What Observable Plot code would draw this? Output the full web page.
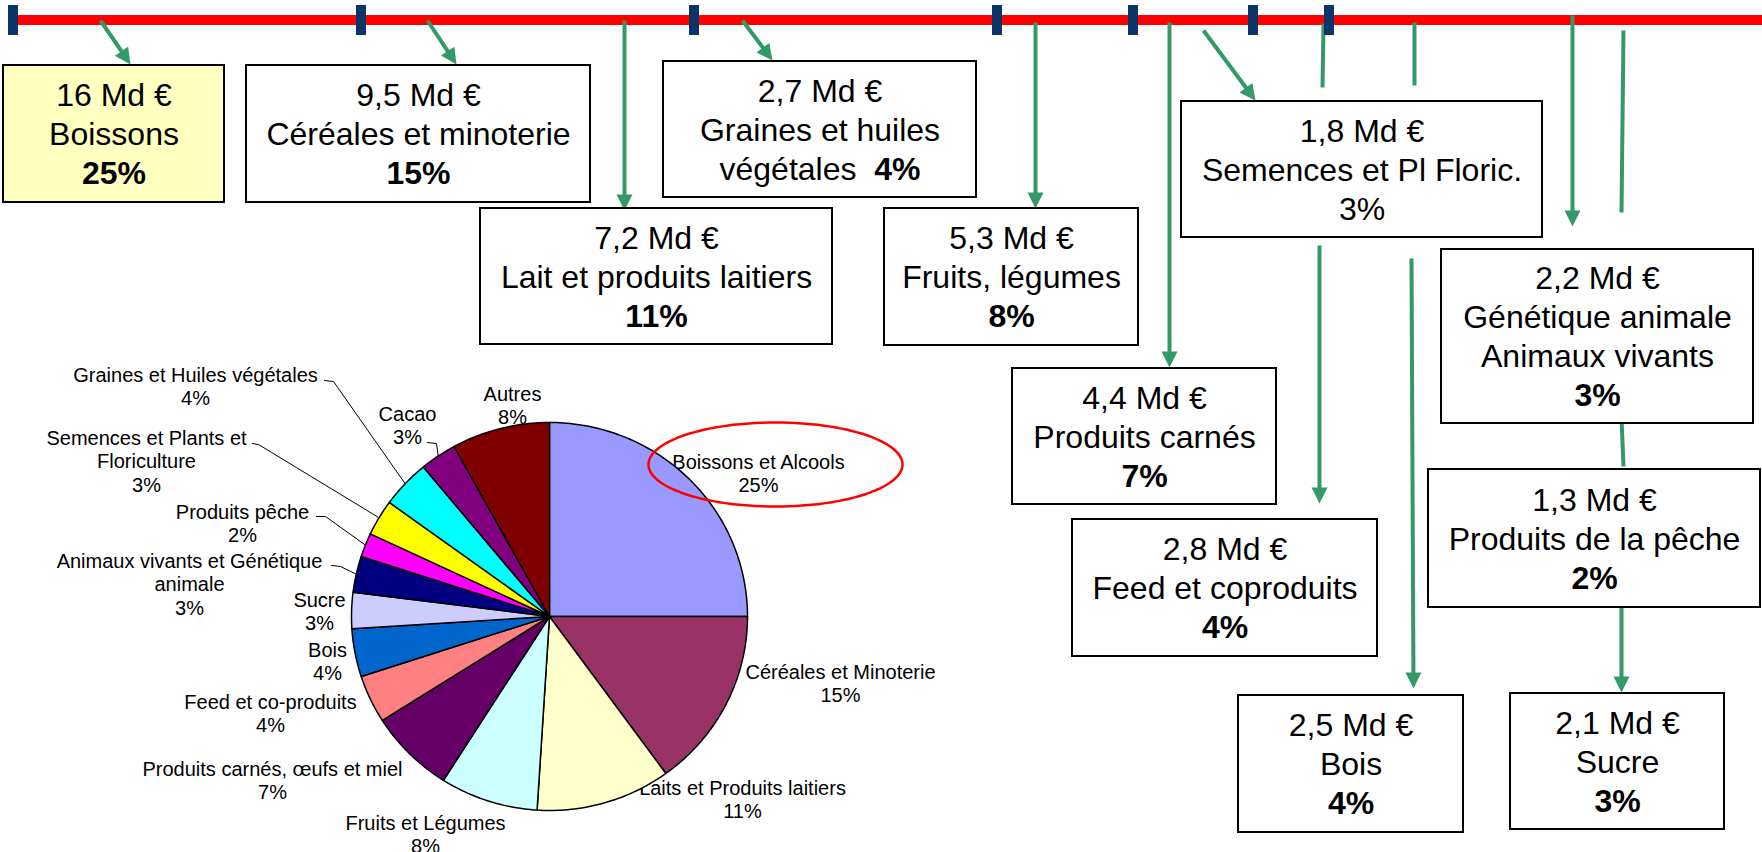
<!DOCTYPE html>
<html>
<head>
<meta charset="utf-8">
<script src="https://cdn.jsdelivr.net/npm/d3@7"></script>
<script src="https://cdn.jsdelivr.net/npm/@observablehq/plot@0.6"></script>
<style>
  html, body { margin: 0; padding: 0; background: #ffffff; }
  #chart { width: 1762px; height: 852px; overflow: hidden; }
</style>
</head>
<body>
<div id="chart"></div>
<script>
// ================= DATA =================
// Boxes (value in Md €, category, share)
const boxAmounts = ["16", "9,5", "2,7", "7,2", "5,3", "1,8", "4,4", "2,8", "2,2", "1,3", "2,5", "2,1"];
const boxNames = [
  ["Boissons"], ["Céréales et minoterie"], ["Graines et huiles", "végétales"],
  ["Lait et produits laitiers"], ["Fruits, légumes"], ["Semences et Pl Floric."],
  ["Produits carnés"], ["Feed et coproduits"], ["Génétique animale", "Animaux vivants"],
  ["Produits de la pêche"], ["Bois"], ["Sucre"]
];
const boxShares = [25, 15, 4, 11, 8, 3, 7, 4, 3, 2, 4, 3];
const boxShareBold = [true, true, true, true, true, false, true, true, true, true, true, true];
const boxShareInline = [false, false, true, false, false, false, false, false, false, false, false, false];
const boxHighlight = [true, false, false, false, false, false, false, false, false, false, false, false];

// Pie (share in %)
const pieLabels = [
  "Boissons et Alcools", "Céréales et Minoterie", "Laits et Produits laitiers", "Fruits et Légumes",
  "Produits carnés, œufs et miel", "Feed et co-produits", "Bois", "Sucre",
  "Animaux vivants et Génétique animale", "Produits pêche", "Semences et Plants et Floriculture",
  "Graines et Huiles végétales", "Cacao", "Autres"
];
const pieLabelLines = [
  ["Boissons et Alcools"], ["Céréales et Minoterie"], ["Laits et Produits laitiers"], ["Fruits et Légumes"],
  ["Produits carnés, œufs et miel"], ["Feed et co-produits"], ["Bois"], ["Sucre"],
  ["Animaux vivants et Génétique", "animale"], ["Produits pêche"], ["Semences et Plants et", "Floriculture"],
  ["Graines et Huiles végétales"], ["Cacao"], ["Autres"]
];
const pieShares = [25, 15, 11, 8, 7, 4, 4, 3, 3, 2, 3, 4, 3, 8];
const pieColors = ["#9999FF", "#993366", "#FFFFCC", "#CCFFFF", "#660066", "#FF8080", "#0066CC",
                   "#CCCCFF", "#000080", "#FF00FF", "#FFFF00", "#00FFFF", "#800080", "#800000"];

// ================= LAYOUT (diagram geometry, pixels) =================
const W = 1762, H = 852;
const FONT = "'Liberation Sans', Arial, Helvetica, sans-serif";
const GREEN = "#339966";
const BOX_FS = 32, BOX_LH = 39;
const PIE_FS = 20, PIE_LH = 23.5;

const boxLayout = [
  {x1: 3,    x2: 224,  y1: 65,  y2: 202},
  {x1: 246,  x2: 590,  y1: 65,  y2: 202},
  {x1: 663,  x2: 976,  y1: 61,  y2: 197},
  {x1: 480,  x2: 832,  y1: 208, y2: 344},
  {x1: 884,  x2: 1138, y1: 208, y2: 345},
  {x1: 1181, x2: 1542, y1: 101, y2: 237},
  {x1: 1012, x2: 1276, y1: 368, y2: 504},
  {x1: 1072, x2: 1377, y1: 519, y2: 656},
  {x1: 1441, x2: 1753, y1: 249, y2: 423},
  {x1: 1428, x2: 1760, y1: 469, y2: 607},
  {x1: 1238, x2: 1463, y1: 695, y2: 832},
  {x1: 1510, x2: 1724, y1: 693, y2: 829}
];

const timeline = {x1: 13, x2: W, y1: 15, y2: 25};
const tickMarks = [13, 361, 694, 997, 1133, 1253, 1329];
const tickSpan = {y1: 5, y2: 35, half: 5};

const arrowSegs = [
  [100, 20, 130, 64], [427, 20, 456, 64], [624, 20, 624, 210], [742, 20, 772, 60],
  [1035, 22, 1035, 208], [1169, 22, 1169, 367], [1203, 30, 1255, 100], [1572, 15, 1572, 226],
  [1319, 245, 1319, 503], [1411, 258, 1413, 688], [1621, 607, 1621, 692]
];
const plainSegs = [
  [1323, 23, 1322, 87], [1414, 22, 1414, 85], [1623, 30, 1621, 212], [1621, 418, 1623, 466]
];

const pieGeom = {cx: 549, cy: 616, rx: 198, ry: 194};
const pieLabelPos = [
  [758, 462], [840, 672], [742, 788], [425, 823], [272, 769], [270, 702], [327, 650],
  [319, 600], [189, 561], [242, 512], [146, 438], [195, 375], [407, 414], [512, 394]
];
const leaderElbows = {
  11: [[324, 380], [333, 381]],
  10: [[252, 443], [258, 444]],
  9:  [[316, 516], [325, 516]],
  8:  [[331, 565], [340, 566]],
  12: [[427, 442], [436, 443]]
};
const highlight = {cx: 775, cy: 464, rx: 127, ry: 42};

// ================= BUILD TABLES =================
const boxes = boxLayout.map((b, i) => ({...b, fill: boxHighlight[i] ? "#FFFFC0" : "#FFFFFF"}));

const boxText = [];
const inlineParts = [];
boxAmounts.forEach((amt, i) => {
  const b = boxLayout[i];
  const names = boxNames[i];
  const lines = [{t: amt + " Md €", bold: false}];
  if (boxShareInline[i]) {
    names.slice(0, -1).forEach(n => lines.push({t: n, bold: false}));
    const s = names[names.length - 1] + "  " + boxShares[i] + "%";
    inlineParts.push({full: s, a: names[names.length - 1], b: boxShares[i] + "%"});
    lines.push({t: s, bold: false});
  } else {
    names.forEach(n => lines.push({t: n, bold: false}));
    lines.push({t: boxShares[i] + "%", bold: boxShareBold[i]});
  }
  const cy = (b.y1 + b.y2) / 2 + 1, n = lines.length;
  lines.forEach((l, j) => boxText.push({...l, x: (b.x1 + b.x2) / 2, y: cy + (j - (n - 1) / 2) * BOX_LH}));
});

const ticks = tickMarks.map(x => ({x1: x - tickSpan.half, x2: x + tickSpan.half, y1: tickSpan.y1, y2: tickSpan.y2}));

const HEAD_L = 16, HEAD_W = 8;
const shafts = [], heads = [];
arrowSegs.forEach(([x1, y1, x2, y2], i) => {
  const dx = x2 - x1, dy = y2 - y1, L = Math.hypot(dx, dy), ux = dx / L, uy = dy / L;
  const bx = x2 - ux * HEAD_L, by = y2 - uy * HEAD_L;
  shafts.push({x1, y1, x2: bx + ux * 2, y2: by + uy * 2});
  heads.push({id: i, x: x2, y: y2}, {id: i, x: bx - uy * HEAD_W, y: by + ux * HEAD_W},
             {id: i, x: bx + uy * HEAD_W, y: by - ux * HEAD_W}, {id: i, x: x2, y: y2});
});
plainSegs.forEach(([x1, y1, x2, y2]) => shafts.push({x1, y1, x2, y2}));

// pie slices
let acc = 0;
const slices = pieShares.map((s, i) => {
  const a0 = acc / 100 * 2 * Math.PI; acc += s;
  const a1 = acc / 100 * 2 * Math.PI;
  return {label: pieLabels[i], color: pieColors[i], a0, a1, mid: (a0 + a1) / 2};
});
const P = pieGeom;
const pt = a => ({x: P.cx + P.rx * Math.sin(a), y: P.cy - P.ry * Math.cos(a)});
const piePts = [];
slices.forEach(sl => {
  piePts.push({k: sl.label, color: sl.color, x: P.cx, y: P.cy});
  const steps = Math.max(2, Math.ceil((sl.a1 - sl.a0) / (Math.PI / 180)));
  for (let k = 0; k <= steps; k++) {
    const p = pt(sl.a0 + (sl.a1 - sl.a0) * k / steps);
    piePts.push({k: sl.label, color: sl.color, ...p});
  }
  piePts.push({k: sl.label, color: sl.color, x: P.cx, y: P.cy});
});

const pieText = [];
pieLabelLines.forEach((lines, i) => {
  const all = [...lines, pieShares[i] + "%"];
  const [x, y0] = pieLabelPos[i];
  all.forEach((t, j) => pieText.push({t, x, y: y0 + j * PIE_LH}));
});

const leaders = [];
Object.entries(leaderElbows).forEach(([idx, pts]) => {
  const e = pt(slices[+idx].mid);
  pts.forEach(([x, y]) => leaders.push({k: idx, x, y}));
  leaders.push({k: idx, x: e.x, y: e.y});
});

const ellipsePts = d3.range(0, 361, 3).map(d => {
  const a = d * Math.PI / 180;
  return {x: highlight.cx + highlight.rx * Math.cos(a), y: highlight.cy + highlight.ry * Math.sin(a)};
});

// ================= PLOT =================
const svg = Plot.plot({
  width: W, height: H,
  marginTop: 0, marginRight: 0, marginBottom: 0, marginLeft: 0,
  x: {type: "linear", domain: [0, W], range: [0, W], axis: null},
  y: {type: "linear", domain: [0, H], range: [0, H], axis: null},
  color: {type: "identity"},
  style: {background: "#ffffff", fontFamily: FONT},
  marks: [
    // pie labels (drawn first so the pie edge covers them as in the original)
    Plot.text(pieText, {x: "x", y: "y", text: "t", fontSize: PIE_FS, fontFamily: FONT, fill: "#000", textAnchor: "middle"}),
    Plot.line(leaders, {x: "x", y: "y", z: "k", stroke: "#000", strokeWidth: 1}),
    Plot.line(piePts, {x: "x", y: "y", z: "k", fill: "color", stroke: "#000", strokeWidth: 1.5, strokeLinejoin: "round"}),
    Plot.line(ellipsePts, {x: "x", y: "y", stroke: "#FF0000", strokeWidth: 2.5, curve: "catmull-rom"}),
    // timeline
    Plot.rect([timeline], {x1: "x1", x2: "x2", y1: "y1", y2: "y2", fill: "#FF0000"}),
    Plot.link(shafts, {x1: "x1", y1: "y1", x2: "x2", y2: "y2", stroke: GREEN, strokeWidth: 4}),
    Plot.line(heads, {x: "x", y: "y", z: "id", fill: GREEN, stroke: "none"}),
    Plot.rect(ticks, {x1: "x1", x2: "x2", y1: "y1", y2: "y2", fill: "#0B3566"}),
    // boxes
    Plot.rect(boxes, {x1: "x1", x2: "x2", y1: "y1", y2: "y2", fill: "fill", stroke: "#000", strokeWidth: 2}),
    Plot.text(boxText.filter(d => !d.bold), {x: "x", y: "y", text: "t", fontSize: BOX_FS, fontFamily: FONT, fill: "#000", textAnchor: "middle"}),
    Plot.text(boxText.filter(d => d.bold), {x: "x", y: "y", text: "t", fontSize: BOX_FS, fontFamily: FONT, fontWeight: "bold", fill: "#000", textAnchor: "middle"})
  ]
});

// mixed-style line: regular label followed by bold share
svg.querySelectorAll("text").forEach(t => {
  const part = inlineParts.find(p => p.full === t.textContent);
  if (!part) return;
  t.textContent = "";
  const ns = "http://www.w3.org/2000/svg";
  const a = document.createElementNS(ns, "tspan");
  a.textContent = part.a + "\u00A0\u00A0";
  const b = document.createElementNS(ns, "tspan");
  b.setAttribute("font-weight", "bold");
  b.textContent = part.b;
  t.appendChild(a); t.appendChild(b);
});

document.getElementById("chart").appendChild(svg);
</script>
</body>
</html>
